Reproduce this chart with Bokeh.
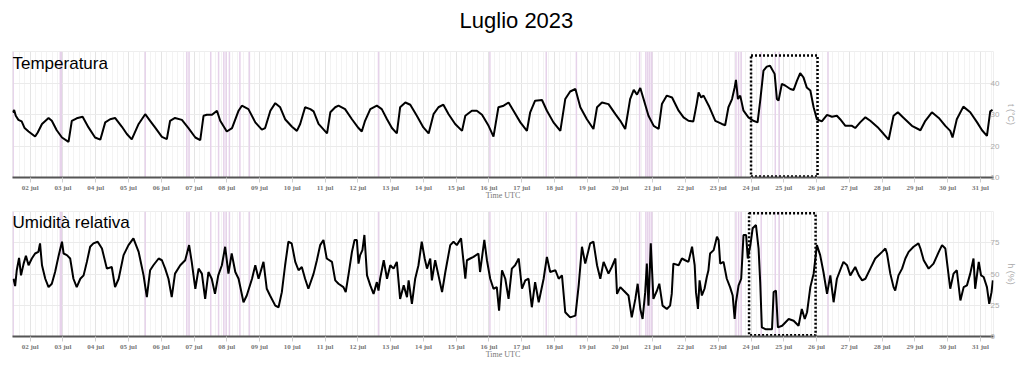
import numpy as np
from bokeh.plotting import figure
from bokeh.models import Range1d, FixedTicker, Span, Label
from bokeh.layouts import column
from bokeh.embed import file_html
from bokeh.resources import INLINE

# time in days since 01 jul 2023 00:00 UTC
temp_t = [0.46,0.51,0.56,0.64,0.74,0.83,0.95,1.15,1.23,1.36,1.56,1.66,1.81,1.97,2.17,2.27,2.42,2.60,2.78,2.98,3.14,3.29,3.44,3.59,3.80,3.95,4.10,4.31,4.51,4.66,4.81,5.02,5.17,5.27,5.42,5.63,5.83,6.04,6.19,6.29,6.39,6.55,6.70,6.80,7.00,7.16,7.36,7.46,7.66,7.87,8.07,8.17,8.33,8.48,8.63,8.78,8.99,9.14,9.24,9.39,9.55,9.65,9.80,10.06,10.16,10.31,
          10.41,10.61,10.82,11.02,11.12,11.22,11.38,11.58,11.73,11.89,12.04,12.19,12.29,12.45,12.60,12.80,13.00,13.16,13.31,13.46,13.61,13.77,13.97,14.18,14.28,14.48,14.63,14.79,14.99,15.14,15.29,15.45,15.60,15.75,15.96,16.16,16.26,16.41,16.62,16.77,16.97,17.18,17.33,17.48,17.64,17.79,17.99,18.19,18.30,18.45,18.65,18.86,19.01,19.16,19.31,19.42,19.52,19.62,19.72,19.87,20.03,20.18,20.28,20.43,20.59,20.79,
          20.94,21.09,21.24,21.34,21.40,21.48,21.55,21.71,21.91,22.11,22.21,22.31,22.42,22.50,22.54,22.60,22.67,22.77,22.92,23.07,23.20,23.28,23.38,23.48,23.58,23.72,23.79,23.84,23.94,24.04,24.20,24.30,24.40,24.50,24.60,24.70,24.81,24.91,
          25.01,25.16,25.32,25.47,25.62,25.72,25.88,26.08,26.18,26.33,26.49,26.64,26.89,27.05,27.20,27.35,27.48,27.66,27.91,28.17,28.32,28.52,28.73,28.93,29.08,29.15,29.28,29.48,29.69,29.90,30.05,30.20,30.30,30.37]
temp_v = [30.7,31.4,29.6,28.3,27.8,25.7,24.6,23.0,24.3,27.0,28.9,28.0,25.0,22.7,21.3,28.0,28.8,29.3,25.9,22.7,22.0,27.5,28.5,28.9,26.1,23.8,22.1,27.0,30.1,28.0,25.9,22.9,22.2,28.0,28.9,28.3,25.7,22.7,21.9,29.6,29.9,29.9,31.2,28.0,24.6,25.7,31.2,32.8,31.7,27.5,25.2,25.7,31.2,33.6,32.3,28.5,26.1,24.8,27.0,32.3,31.7,31.0,27.0,24.0,30.7,32.3,
          32.8,31.7,28.5,25.7,24.6,28.0,31.7,32.8,31.7,28.5,25.7,24.0,32.3,33.8,33.1,29.6,25.9,24.0,30.1,32.3,33.1,30.1,27.0,24.8,29.6,31.2,31.2,29.9,26.4,23.0,32.3,32.8,33.8,31.2,27.5,24.8,30.7,34.4,34.6,31.2,27.5,24.8,34.9,37.3,38.1,32.3,28.5,25.4,32.3,33.8,33.3,30.1,28.0,25.4,34.9,37.8,36.3,38.4,34.9,29.6,26.4,25.4,33.3,36.0,35.4,31.2,
          29.1,28.0,27.8,33.3,37.0,35.4,36.0,32.8,28.0,27.0,26.6,32.3,34.9,38.6,41.0,34.9,36.0,31.2,29.1,28.0,27.5,34.4,43.9,45.2,45.5,42.9,34.9,34.4,39.7,39.2,38.1,37.8,40.7,43.1,41.8,38.6,37.6,32.3,
          28.5,27.8,29.9,29.3,29.6,28.5,26.4,26.4,25.7,27.5,29.1,28.0,25.7,23.8,22.0,29.6,30.7,28.9,26.4,25.0,28.0,30.7,28.9,26.4,24.8,22.7,28.5,32.5,30.7,27.5,25.0,23.2,31.0,31.5]

hum_t = [0.49,0.54,0.59,0.66,0.72,0.80,0.87,0.95,1.05,1.15,1.25,1.30,1.36,1.46,1.56,1.66,1.76,1.86,1.97,2.02,2.12,2.22,2.32,2.42,2.53,2.63,2.73,2.83,2.93,3.06,3.19,3.34,3.49,3.59,3.70,3.85,4.00,4.15,4.31,4.46,4.56,4.66,4.76,4.92,5.02,5.12,5.22,5.32,5.42,5.58,5.73,5.85,5.93,6.04,6.14,6.24,6.34,6.44,6.54,6.64,6.74,6.85,6.95,7.05,7.15,7.26,7.36,7.51,7.61,7.77,7.87,7.97,8.12,8.22,8.32,8.48,8.58,8.68,8.78,8.88,8.98,9.09,9.19,9.29,9.39,9.49,9.65,9.75,9.85,9.95,10.05,10.21,10.31,
         10.41,10.56,10.63,10.72,10.82,10.90,10.97,11.02,11.07,11.14,11.20,11.28,11.38,11.48,11.58,11.63,11.68,11.79,11.89,11.99,12.09,12.19,12.29,12.40,12.50,12.55,12.65,12.75,12.85,12.95,13.04,13.11,13.21,13.26,13.36,13.46,13.57,13.67,13.82,13.92,14.02,14.15,14.28,14.33,14.43,14.53,14.68,14.73,14.86,14.94,15.04,15.14,15.24,15.31,15.40,15.50,15.60,15.70,15.80,15.91,16.01,16.11,16.21,16.31,16.41,16.52,16.67,16.77,16.87,17.03,17.13,17.23,17.33,17.48,17.64,17.74,17.84,17.94,18.09,18.19,18.30,18.40,18.50,18.65,18.75,18.86,18.91,19.01,19.11,19.26,19.36,19.47,19.54,19.62,19.69,19.77,19.82,19.87,19.94,20.02,20.13,20.20,20.30,20.43,20.53,20.58,20.63,20.79,
         20.89,20.99,21.09,21.20,21.28,21.32,21.38,21.43,21.50,21.58,21.65,21.70,21.75,21.86,21.96,22.01,22.06,22.16,22.26,22.36,22.44,22.50,22.54,22.62,22.70,22.77,22.85,22.90,22.98,23.05,23.15,23.23,23.28,23.33,23.44,23.64,23.69,23.76,23.82,23.95,24.15,24.30,24.45,24.55,24.64,24.71,24.81,24.91,25.01,25.11,25.21,25.32,25.42,25.52,25.62,25.72,25.82,25.93,26.03,26.18,26.29,26.39,26.49,26.64,26.79,27.00,27.10,27.15,27.25,27.35,27.40,27.50,27.61,27.71,27.81,27.96,28.11,28.17,28.27,28.42,28.57,28.73,28.83,28.93,28.98,29.08,29.18,29.28,29.39,29.49,29.59,29.69,29.79,29.84,29.95,30.02,30.10,30.20,30.27,30.34,30.38]
hum_v = [46.2,40.3,53.0,62.9,48.9,58.3,64.5,57.0,62.4,66.4,67.7,74.5,57.0,46.2,39.5,42.2,51.6,63.7,75.8,66.4,65.1,62.4,46.2,39.5,46.2,48.9,59.7,71.8,74.5,75.8,70.4,54.3,55.6,39.5,46.2,65.1,73.1,78.5,67.7,48.9,31.5,53.0,57.0,62.4,61.0,54.3,46.2,31.5,50.3,57.0,61.0,73.1,59.7,38.2,54.3,50.3,30.1,51.6,46.2,34.1,48.9,57.0,71.8,50.3,66.4,51.6,46.2,27.4,32.8,46.2,57.0,46.2,59.7,38.2,32.8,24.7,23.4,35.5,57.0,75.8,74.5,59.7,53.0,55.6,46.2,38.2,50.3,61.0,73.1,77.2,62.4,59.7,44.9,
         42.2,39.5,35.5,50.3,67.7,77.2,77.2,58.3,65.1,69.1,81.2,48.9,40.9,34.1,43.5,36.8,46.2,61.0,46.2,57.0,54.3,59.7,30.1,40.9,31.5,44.9,26.1,46.2,57.0,75.8,62.4,54.3,62.4,44.9,61.0,48.9,35.5,51.6,73.1,75.8,73.1,78.5,46.2,61.0,62.4,63.7,66.4,51.6,77.2,61.0,46.2,38.2,39.5,20.7,53.0,46.2,30.1,54.3,57.0,62.4,38.2,44.9,46.2,23.4,43.5,27.4,46.2,63.7,51.6,53.0,46.2,48.9,19.4,15.3,16.7,40.9,71.8,58.3,74.5,75.8,57.0,46.2,59.7,50.3,55.6,62.4,34.1,39.5,36.8,32.8,15.3,30.1,42.2,22.0,14.0,35.5,58.3,24.7,74.5,30.1,36.8,42.2,24.7,22.0,24.7,34.1,58.3,57.0,
         62.4,61.0,59.7,71.8,57.0,35.5,22.0,44.9,32.8,38.2,47.6,53.0,66.4,69.1,79.8,77.2,58.3,59.7,46.2,39.5,32.8,14.0,27.4,40.9,46.2,81.2,81.2,62.4,73.1,86.6,89.2,70.4,43.5,7.3,5.9,5.9,35.5,36.8,7.3,8.6,14.0,12.6,8.6,22.0,14.0,19.4,39.5,50.3,73.1,65.1,51.6,34.1,48.9,27.4,46.2,53.0,59.7,57.0,48.9,55.6,48.9,44.9,46.2,54.3,62.4,67.7,70.4,66.4,50.3,39.5,36.8,48.9,54.3,62.4,67.7,71.8,74.5,70.4,61.0,54.3,58.3,67.7,73.1,70.4,59.7,38.2,50.3,53.0,28.8,39.5,40.9,50.3,62.4,38.2,59.7,48.9,47.6,39.5,26.1,35.5,44.9]

events = [0.48,1.92,1.95,4.51,5.78,5.85,6.51,6.75,6.91,6.98,7.08,7.40,7.69,11.63,15.03,16.75,17.67,
          19.60,19.79,19.85,19.91,19.97,22.54,22.62,22.70,23.31,23.74,23.86,25.35]

day_ticks = list(range(1, 31))
day_labels = {d: "%02d jul" % (d + 1) for d in day_ticks}
minor_ticks = [round(i / 6, 4) for i in range(0, 31 * 6)]

temp_box = dict(left=[23.0], right=[25.03], bottom=[10.3], top=[48.7])
hum_box = dict(left=[22.94], right=[24.97], bottom=[1.0], top=[98.6])

x_range = Range1d(0.46, 30.40)

SERIF = "Liberation Serif"
SANS = "Liberation Sans"
TITLE = "Luglio 2023"


def panel(xs, ys, yr, yticks, ylabel, name, name_y, box, top_border, fh):
    p = figure(frame_width=981, frame_height=fh, x_range=x_range, y_range=Range1d(*yr),
               y_axis_location="right", output_backend="svg", toolbar_location=None,
               min_border_left=12, min_border_top=top_border, min_border_bottom=0,
               min_border_right=0, outline_line_color="#eeeeee", background_fill_color="white",
               border_fill_color="white")
    xt = FixedTicker(ticks=day_ticks, minor_ticks=minor_ticks)
    p.xaxis.ticker = xt
    p.xgrid.ticker = xt
    p.xaxis.major_label_overrides = day_labels
    p.xaxis.major_label_text_font = SERIF
    p.xaxis.major_label_text_font_style = "bold"
    p.xaxis.major_label_text_font_size = "7px"
    p.xaxis.major_label_text_color = "#777777"
    p.xaxis.major_label_standoff = 1
    p.xaxis.axis_label = "Time UTC"
    p.xaxis.axis_label_text_font = SERIF
    p.xaxis.axis_label_text_font_style = "normal"
    p.xaxis.axis_label_text_font_size = "8px"
    p.xaxis.axis_label_text_color = "#777777"
    p.xaxis.axis_label_standoff = -4
    p.xaxis.axis_line_color = "#555555"
    p.xaxis.axis_line_width = 2
    p.xaxis.major_tick_out = 5
    p.xaxis.major_tick_in = 0
    p.xaxis.major_tick_line_color = "#cccccc"
    p.xaxis.minor_tick_line_color = None
    p.xgrid.grid_line_color = "#e4e4e4"
    p.xgrid.minor_grid_line_color = "#f3f3f3"

    p.yaxis.ticker = FixedTicker(ticks=yticks)
    p.ygrid.ticker = FixedTicker(ticks=yticks)
    p.ygrid.grid_line_color = "#ebebeb"
    p.yaxis.axis_line_color = None
    p.yaxis.major_tick_line_color = None
    p.yaxis.minor_tick_line_color = None
    p.yaxis.major_label_standoff = -9
    p.yaxis.major_label_text_baseline = "bottom"
    p.yaxis.major_label_text_font = SANS
    p.yaxis.major_label_text_font_size = "8px"
    p.yaxis.major_label_text_color = "#aaaaaa"
    p.yaxis.axis_label = ylabel
    p.yaxis.axis_label_text_font = SANS
    p.yaxis.axis_label_text_font_style = "normal"
    p.yaxis.axis_label_text_font_size = "9px"
    p.yaxis.axis_label_text_color = "#aaaaaa"
    p.yaxis.axis_label_standoff = 4

    for e in events:
        p.add_layout(Span(location=e, dimension="height", line_color="#e6d2ea",
                          line_width=1.5, level="underlay"))

    p.line(xs, ys, line_color="black", line_width=2)
    p.quad(left=box["left"], right=box["right"], bottom=box["bottom"], top=box["top"],
           fill_color=None, line_color="black", line_width=2.5, line_dash="2 2")
    p.add_layout(Label(x=0.46, y=name_y, text=name, text_font=SANS, text_font_size="17px",
                       text_baseline="middle", text_color="black"))
    return p


# title strip above the two panels
p0 = figure(frame_width=981, frame_height=43, x_range=x_range, y_range=Range1d(0, 1),
            output_backend="svg", toolbar_location=None, min_border_left=12, min_border_top=0,
            min_border_bottom=0, min_border_right=0, outline_line_color=None)
p0.axis.visible = False
p0.grid.visible = False
p0.add_layout(Label(x=15.84, y=0.535, text=TITLE, text_font=SANS, text_font_size="22px",
                    text_align="center", text_baseline="middle", text_color="black"))

p1 = panel(temp_t, temp_v, (10, 50), [10, 20, 30, 40, 50], "t (°C)", "Temperatura", 46.1, temp_box, 8, 126)
p2 = panel(hum_t, hum_v, (0, 100), [0, 25, 50, 75, 100], "h (%)", "Umidità relativa", 91.5, hum_box, 9, 125)
p1.yaxis.major_label_overrides = {50: ""}
p2.yaxis.major_label_overrides = {100: ""}

layout = column(p0, p1, p2, spacing=0)
open("out.html", "w").write(file_html(layout, INLINE))
